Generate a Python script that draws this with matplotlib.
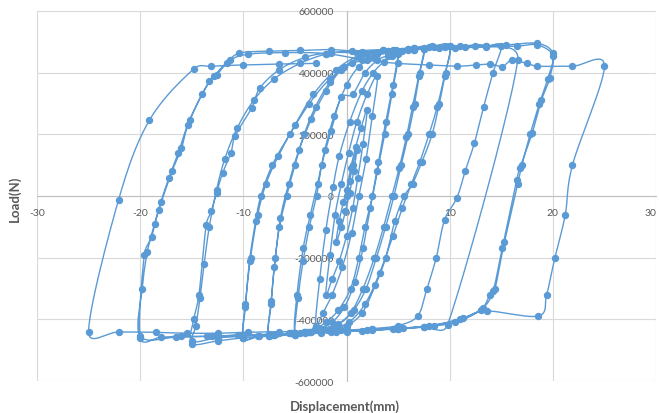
import numpy as np
import matplotlib
matplotlib.use("Agg")
import matplotlib.pyplot as plt

# Cyclic load-displacement record, one block per loading cycle.
# Displacement in mm, load in kN (converted to N when plotted).
c1_x = [0.0, 0.3, 0.6, 1.0, 0.7, 0.3, -0.1, -0.5, -1.0, -0.7, -0.3, 0.0]
c1_y = [0, 50, 100, 150, 80, 10, -50, -100, -150, -80, -20, 20]

c2_x = [0.4, 0.9, 1.4, 2.0, 1.6, 1.1, 0.6, 0.0, -0.7, -1.4, -2.0, -1.6, -1.1, -0.5]
c2_y = [90, 160, 220, 280, 170, 60, -40, -130, -210, -270, -320, -190, -60, 40]

c3_x = [0.2, 1.0, 2.0, 3.0, 2.5, 1.9, 1.2, 0.5, -0.4, -1.4, -2.3, -3.0, -2.6, -2.0, -1.3, -0.7]
c3_y = [140, 240, 330, 390, 260, 120, 0, -120, -230, -320, -380, -420, -270, -110, 30, 130]

c4_x = [0.3, 1.5, 2.6, 3.6, 4.4, 5.0, 4.5, 3.8, 3.1, 2.5, 1.8, 1.2, 0.4, -0.8, -2.0, -3.1,
        -4.1, -5.0, -4.7, -4.2, -3.6, -2.9, -2.4, -1.5, -0.5]
c4_y = [240, 340, 400, 435, 455, 465, 360, 240, 110, 0, -100, -200, -300, -370, -410, -430,
        -440, -450, -330, -210, -100, 0, 100, 210, 320]

c5_x = [0.6, 1.8, 3.0, 4.0, 5.0, 4.4, 3.7, 3.0, 2.3, 1.6, 0.8, -0.2, -1.4, -2.6, -3.8, -5.0,
        -4.8, -4.2, -3.5, -2.8, -2.1, -1.2, 0.0]
c5_y = [330, 400, 440, 455, 460, 330, 200, 80, -40, -170, -280, -360, -410, -430, -440, -445,
        -320, -170, -60, 40, 150, 260, 360]

c6_x = [1.2, 2.6, 4.0, 5.4, 6.5, 7.5, 7.0, 6.4, 5.8, 5.1, 4.4, 3.6, 2.7, 1.6, 0.4, -1.0, -2.5,
        -4.0, -5.5, -7.5, -7.3, -7.0, -6.5, -5.8, -5.0, -4.1, -3.0, -1.6, -0.2]
c6_y = [420, 450, 465, 470, 475, 480, 390, 290, 190, 90, 0, -100, -200, -300, -380, -420, -435,
        -440, -445, -455, -350, -230, -100, 0, 100, 200, 290, 370, 420]

c7_x = [1.5, 3.0, 4.5, 6.0, 7.5, 7.1, 6.6, 6.0, 5.3, 4.6, 3.8, 2.9, 1.9, 0.7, -0.8, -2.4, -4.0,
        -5.6, -7.5, -7.3, -6.9, -6.4, -5.6, -4.6, -3.4, -2.0, -0.5]
c7_y = [440, 460, 470, 475, 478, 400, 300, 200, 100, 0, -100, -200, -300, -370, -415, -430, -440,
        -445, -450, -340, -200, -70, 40, 150, 250, 340, 410]

c8_x = [1.2, 3.0, 4.8, 6.5, 8.3, 10.0, 9.6, 9.0, 8.3, 7.3, 6.4, 5.6, 4.7, 3.8, 2.8, 1.5, 0.0,
        -1.8, -3.6, -5.4, -7.2, -8.6, -10.0, -9.8, -9.4, -8.8, -8.3, -7.2, -5.5, -3.6, -1.6, 0.5]
c8_y = [450, 465, 475, 480, 485, 488, 400, 300, 200, 110, 40, 0, -80, -200, -290, -380, -420,
        -435, -440, -445, -450, -455, -460, -360, -210, -80, 0, 100, 200, 300, 380, 430]

c9_x = [2.0, 4.0, 6.0, 8.0, 10.0, 9.5, 8.8, 8.0, 7.1, 6.3, 5.4, 4.5, 3.2, 1.8, 0.2, -1.6, -3.4,
        -5.2, -7.0, -8.5, -10.0, -9.8, -9.3, -8.6, -7.8, -6.6, -5.0, -3.2, -1.0]
c9_y = [460, 470, 478, 482, 485, 390, 290, 200, 110, 40, -40, -130, -250, -350, -410, -430, -440,
        -445, -450, -455, -460, -350, -200, -60, 40, 130, 230, 330, 410]

c10_x = [1.5, 4.0, 6.5, 9.0, 11.5, 13.5, 15.0, 14.2, 13.3, 12.4, 11.5, 10.7, 9.5, 8.7, 7.8, 6.9,
         5.0, 2.5, 0.0, -2.5, -5.0, -7.5, -10.0, -12.5, -15.0, -14.8, -14.3, -13.6, -13.1, -12.6,
         -12.0, -11.2, -10.8, -9.2, -8.4, -6.5, -4.0, -1.5]
c10_y = [460, 470, 475, 480, 482, 485, 488, 400, 290, 172, 80, -6, -78, -200, -300, -389,
         -420, -430, -435, -440, -445, -450, -455, -460, -470, -400, -320, -94, -49, 10,
         75, 140, 195, 285, 350, 410, 450, 465]

c11_x = [1.0, 3.5, 6.0, 8.5, 11.0, 13.5, 16.6, 9.8, 7.5, 5.0, 2.5, 0.0, -2.5, -5.0, -7.5, -10.0,
         -12.5, -15.0, -14.6, -14.2, -13.8, -13.3, -12.6, -11.8, -10.6, -9.0, -7.0, -4.5, -2.0]
c11_y = [465, 472, 478, 482, 485, 488, 440, -418, -425, -430, -435, -440, -445, -450, -455, -460,
         -470, -480, -420, -330, -220, -100, 20, 120, 220, 310, 380, 430, 460]

c12_x = [0.5, 3.5, 6.5, 9.5, 12.5, 15.5, 18.5, 20.0, 19.7, 18.9, 18.0, 16.8, 16.5, 15.1, 14.2,
         13.2, 11.0, 8.0, 5.0, 2.0, -1.0, -4.0, -7.0, -10.0, -13.0, -16.0, -18.0, -20.0, -19.6,
         -18.9, -18.2, -16.9, -16.0, -15.2, -13.3, -12.6, -11.6, -10.4, -7.5, -4.5, -1.5]
c12_y = [470, 475, 480, 483, 486, 490, 495, 463, 383, 311, 204, 91, 52, -169, -308,
         -363, -400, -420, -430, -435, -440, -445, -450, -450, -455, -455, -458, -460, -191,
         -133, -45, 81, 155, 246, 373, 392, 431, 463, 470, 472, 475]

c13_x = [1.5, 4.5, 7.5, 10.5, 13.5, 16.5, 18.5, 20.0, 19.5, 18.7, 17.8, 17.0, 16.6, 15.3, 14.4,
         13.9, 13.0, 10.5, 7.5, 4.5, 1.5, -1.5, -4.5, -7.5, -10.5, -13.5, -16.5, -20.0, -19.8,
         -19.3, -18.6, -18.0, -17.2, -16.3, -15.4, -14.0, -12.8, -11.3, -9.5, -6.0, -2.0]
c13_y = [468, 472, 476, 480, 483, 486, 490, 455, 380, 300, 200, 100, 40, -150, -300,
         -321, -370, -410, -425, -432, -437, -440, -445, -448, -452, -455, -458, -455, -300,
         -180, -90, -20, 60, 140, 230, 330, 390, 440, 460, 465, 462]

c14_x = [2.0, 5.0, 8.0, 10.7, 12.6, 13.9, 15.1, 16.0, 17.5, 18.5, 21.9, 25.0, 21.9, 21.2, 20.2,
         19.4, 18.6, 13.6, 11.3, 8.5, 5.5, 2.5, -0.5, -3.5, -6.5, -9.5, -12.5, -15.5, -18.5,
         -22.1, -25.0, -22.1, -19.1, -14.8, -13.1, -10.0, -6.5, -3.0]
c14_y = [440, 430, 425, 421, 425, 428, 420, 440, 430, 421, 421, 421, 100, -62, -200,
         -320, -389, -373, -395, -420, -428, -432, -436, -440, -440, -442, -445, -445, -442,
         -441, -441, -13, 246, 412, 421, 425, 428, 430]

cycles_x = [c1_x, c2_x, c3_x, c4_x, c5_x, c6_x, c7_x, c8_x, c9_x, c10_x, c11_x, c12_x, c13_x, c14_x]
cycles_y = [c1_y, c2_y, c3_y, c4_y, c5_y, c6_y, c7_y, c8_y, c9_y, c10_y, c11_y, c12_y, c13_y, c14_y]

x_ticks = [-30, -20, -10, 0, 10, 20, 30]
y_ticks = [-600000, -400000, -200000, 0, 200000, 400000, 600000]

displacement = np.concatenate([np.asarray(c, float) for c in cycles_x])
load = np.concatenate([np.asarray(c, float) for c in cycles_y]) * 1000.0

BLUE = "#5B9BD5"
TEXT = "#595959"

fig = plt.figure(figsize=(6.59, 4.14), dpi=100)
ax = fig.add_axes([37 / 659, 32 / 414, 619 / 659, 370 / 414])
ax.set_xlim(x_ticks[0], x_ticks[-1])
ax.set_ylim(y_ticks[0], y_ticks[-1])


def smooth_path(xs, ys, samples=14):
    """Smoothed line through the points: cubic Bezier segments with control
    arms taken from the neighbouring points (in screen space), each arm capped
    at half of its own segment so long jumps stay nearly straight."""
    pts = ax.transData.transform(np.column_stack([xs, ys]))
    n = len(pts)
    out = [pts[0]]
    t = np.linspace(0, 1, samples)[1:, None]

    def arm(vec, limit):
        length = np.hypot(*vec)
        if length > limit and length > 0:
            return vec * (limit / length)
        return vec

    for i in range(n - 1):
        p0 = pts[i]
        p3 = pts[i + 1]
        seg_len = np.hypot(*(p3 - p0))
        pm = pts[i - 1] if i > 0 else pts[i]
        pn = pts[i + 2] if i + 2 < n else pts[i + 1]
        p1 = p0 + arm((p3 - pm) / 6.0, 0.5 * seg_len)
        p2 = p3 - arm((pn - p0) / 6.0, 0.5 * seg_len)
        seg = ((1 - t) ** 3) * p0 + 3 * ((1 - t) ** 2) * t * p1 + 3 * (1 - t) * t ** 2 * p2 + t ** 3 * p3
        out.extend(seg)
    out = np.array(out)
    data = ax.transData.inverted().transform(out)
    return data[:, 0], data[:, 1]


sx, sy = smooth_path(displacement, load)
ax.plot(sx, sy, color=BLUE, lw=1.0, zorder=3)
ax.plot(displacement, load, "o", color=BLUE, ms=4.3, mec=BLUE, zorder=4)

ax.set_xticks(x_ticks)
ax.set_yticks(y_ticks)
ax.set_xticklabels([str(v) for v in x_ticks])
ax.set_yticklabels([str(v) for v in y_ticks])
ax.grid(True, color="#D9D9D9", lw=0.8)
ax.set_axisbelow(True)

for side in ("top", "right"):
    ax.spines[side].set_visible(False)
ax.spines["left"].set_position(("data", 0))
ax.spines["bottom"].set_position(("data", 0))
for side in ("left", "bottom"):
    ax.spines[side].set_color("#BFBFBF")
    ax.spines[side].set_linewidth(0.8)
    ax.spines[side].set_zorder(1)

ax.tick_params(axis="both", length=0, labelcolor=TEXT, labelsize=7.5)
ax.tick_params(axis="y", pad=9)
ax.tick_params(axis="x", pad=9)
for lbl in ax.get_xticklabels() + ax.get_yticklabels():
    lbl.set_fontfamily("Lato")
# the last x label sits on the right edge of the frame
ax.get_xticklabels()[-1].set_horizontalalignment("right")

fig.text(15 / 659, 1 - 199 / 414, "Load(N)", rotation=90, ha="center", va="center",
         fontsize=9.5, fontweight="bold", color=TEXT, family="Lato")
fig.text(345 / 659, 1 - 407 / 414, "Displacement(mm)", ha="center", va="center",
         fontsize=9.5, fontweight="bold", color=TEXT, family="Lato")

fig.savefig("out.png", dpi=100)
